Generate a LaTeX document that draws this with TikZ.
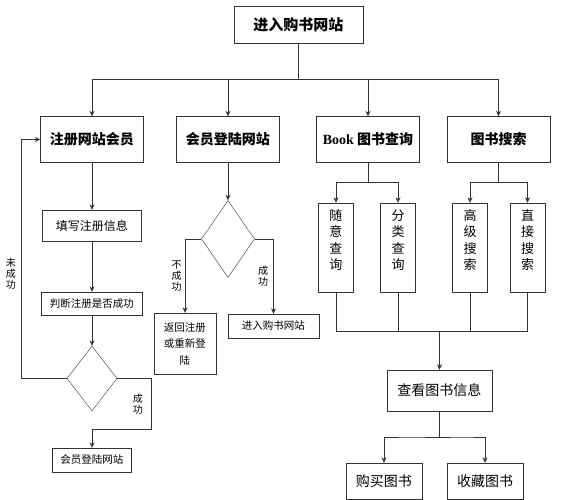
\documentclass[tikz,border=0pt]{standalone}
\usepackage{fontspec}
\setmainfont{Noto Sans CJK SC}
\newfontfamily\latinserif{Liberation Serif}
\usepackage{tikz}
\usetikzlibrary{calc}
\usetikzlibrary{shapes.geometric, arrows.meta}

\tikzstyle{entry} = [rectangle, 
minimum width=129pt, 
minimum height=37pt, 
inner sep=0pt, 
text centered, 
draw=black!80, 
font=\fontsize{15pt}{18pt}\selectfont\bfseries]
\tikzstyle{module} = [rectangle, 
minimum width=103pt, 
minimum height=46pt, 
inner sep=0pt, 
text centered, 
draw=black!80, 
font=\fontsize{14pt}{17pt}\selectfont\bfseries]
\tikzstyle{process} = [rectangle, 
inner sep=0pt, 
text centered, 
align=center, 
draw=black!80, 
font=\fontsize{10.5pt}{16.5pt}\selectfont]
\tikzstyle{vcol} = [rectangle, 
minimum width=35pt, 
minimum height=89pt, 
inner sep=0pt, 
align=center, 
text depth=16pt, % pushes the text up a little
draw=black!80, 
font=\fontsize{13pt}{16.5pt}\selectfont]
\tikzstyle{decision} = [diamond, 
inner sep=0pt, 
draw=black!80]
\tikzstyle{branch} = [align=center, 
inner sep=1pt, 
font=\fontsize{10pt}{11pt}\selectfont]
\tikzstyle{arrow} = [semithick, draw=black!80, ->, >={Stealth[length=5.5pt, width=5pt]}]
\tikzstyle{line} = [semithick, draw=black!80]

\begin{document}
\begin{tikzpicture} [node distance=40pt]
    \useasboundingbox (-298.5pt,24.5pt) rectangle (277.5pt,-475.5pt);

    \node (web) [entry] {进入购书网站};
    \node (reg) [module, below of=web, xshift=-206.5pt, yshift=-75pt] {注册网站会员};
    \node (login) [module, right of=reg, xshift=96pt] {会员登陆网站};
    \node (query) [module, right of=login, xshift=100pt] {{\latinserif\bfseries Book} 图书查询};
    \node (search) [module, right of=query, xshift=90.5pt] {图书搜索};

    \node (fill) [process, below of=reg, yshift=-46pt, minimum width=99pt, minimum height=31pt, font=\fontsize{12pt}{14pt}\selectfont] {填写注册信息};
    \node (check) [process, below of=fill, yshift=-38pt, minimum width=101pt, minimum height=23pt] {判断注册是否成功};
    \node (regok) [decision, below of=check, yshift=-35pt, minimum width=50pt, minimum height=65pt] {};
    \node (member) [process, below of=regok, yshift=-41.5pt, minimum width=79pt, minimum height=24pt] {会员登陆网站};

    \node (logindec) [decision, below of=login, yshift=-59.5pt, minimum width=53pt, minimum height=77pt] {};
    \node (back) [process, below of=logindec, xshift=-43pt, yshift=-64.5pt, minimum width=62pt, minimum height=61pt] {返回注册\\或重新登\\陆};
    \node (enter) [process, below of=logindec, xshift=45.5pt, yshift=-47pt, minimum width=91pt, minimum height=24pt] {进入购书网站};

    \node (rand) [vcol, below of=query, xshift=-32pt, yshift=-68pt] {随\\意\\查\\询};
    \node (cat) [vcol, right of=rand, xshift=22pt] {分\\类\\查\\询};
    \node (adv) [vcol, below of=search, xshift=-28.5pt, yshift=-68pt] {高\\级\\搜\\索};
    \node (direct) [vcol, right of=adv, xshift=17.5pt] {直\\接\\搜\\索};

    \node (view) [process, below of=cat, xshift=41.5pt, yshift=-103pt, minimum width=105pt, minimum height=41pt, font=\fontsize{14pt}{17pt}\selectfont] {查看图书信息};
    \node (buy) [process, below of=view, xshift=-55.5pt, yshift=-50.5pt, minimum width=76pt, minimum height=36pt, font=\fontsize{14pt}{17pt}\selectfont] {购买图书};
    \node (fav) [process, right of=buy, xshift=61pt, minimum width=76pt, minimum height=36pt, font=\fontsize{14pt}{17pt}\selectfont] {收藏图书};

    \coordinate (loopback) at ($(reg.west)+(-19pt,0)$);
    \coordinate (okturn) at ($(regok.east)+(34pt,-50.5pt)$);
    \coordinate (gather) at ($(view.north)+(0,39pt)$);

    \draw [arrow] (web) |- ($0.5*(web.south)+0.5*(reg.north)$) -| (reg);
    \draw [arrow] (web) |- ($0.5*(web.south)+0.5*(login.north)$) -| (login);
    \draw [arrow] (web) |- ($0.5*(web.south)+0.5*(query.north)$) -| (query);
    \draw [arrow] (web) |- ($0.5*(web.south)+0.5*(search.north)$) -| (search);

    \draw [arrow] (reg) -- (fill);
    \draw [arrow] (fill) -- (check);
    \draw [arrow] (check) -- (regok);
    \draw [arrow] (regok.west) -| node[branch, pos=0.72, left=4pt] (failtag) {未\\成\\功} (loopback) -- (reg.west);
    \draw [arrow] (regok.east) -| node[branch, pos=0.75, left=7pt] (oktag) {成\\功} (okturn) -| (member);

    \draw [arrow] (login) -- (logindec);
    \draw [arrow] (logindec.west) -| node[branch, pos=0.75, left=2pt] (notag) {不\\成\\功} (back);
    \draw [arrow] (logindec.east) -| node[branch, pos=0.75, left=4pt] (yestag) {成\\功} (enter);

    \draw [arrow] (query) |- ($0.5*(query.south)+0.5*(rand.north)$) -| (rand);
    \draw [arrow] (query) |- ($0.5*(query.south)+0.5*(cat.north)$) -| (cat);
    \draw [arrow] (search) |- ($0.5*(search.south)+0.5*(adv.north)$) -| (adv);
    \draw [arrow] (search) |- ($0.5*(search.south)+0.5*(direct.north)$) -| (direct);

    \draw [line] (rand) |- (gather);
    \draw [line] (cat) |- (gather);
    \draw [line] (adv) |- (gather);
    \draw [line] (direct) |- (gather);
    \draw [arrow] (gather) -- (view);

    \draw [arrow] (view) |- ($0.5*(view.south)+0.5*(buy.north)$) -| (buy);
    \draw [arrow] (view) |- ($0.5*(view.south)+0.5*(fav.north)$) -| (fav);

\end{tikzpicture}
\end{document}
